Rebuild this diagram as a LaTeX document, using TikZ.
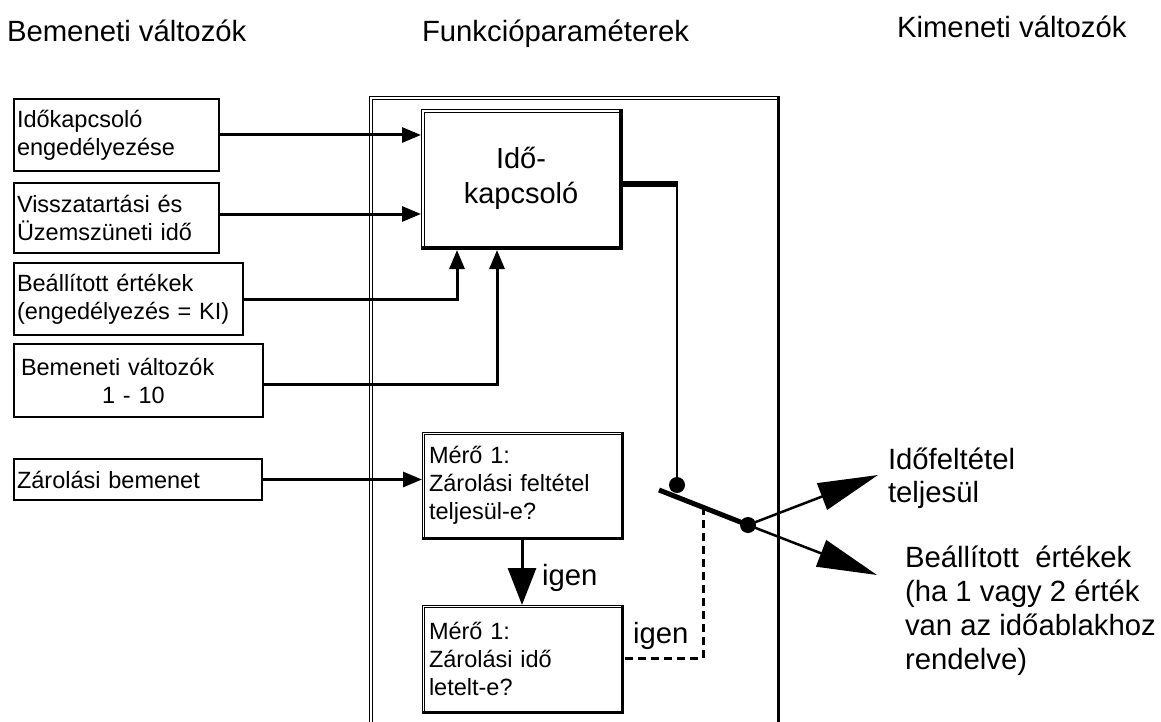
\documentclass[tikz,border=0pt]{standalone}
\usepackage{fontspec}
\setmainfont{Liberation Sans}
\usetikzlibrary{arrows.meta,calc}
\newcommand\dblframe[3]{%
  \draw[line width=0.9pt] ($(#1.south west)+(#2,0)$) |- ($(#1.north east)+(0,#2)$);
  \draw[line width=#3] (#1.north east) |- (#1.south west);
}
\begin{document}
\begin{tikzpicture}[x=1pt,y=-1pt,
  every node/.style={inner sep=0pt, outer sep=0pt},
  fsmall/.style={font=\fontsize{23.5pt}{28pt}\selectfont},
  fbig/.style={font=\fontsize{29.3pt}{34pt}\selectfont},
  inbox/.style={draw, line width=2.2pt, anchor=north west, align=left, fsmall, inner xsep=3pt},
  frame/.style={draw, line width=0.9pt, anchor=north west},
  arr/.style={line width=3pt, -{Triangle[length=19pt,width=15pt]}},
  bigarr/.style={line width=3pt, -{Triangle[length=37pt,width=28pt]}},
  outarr/.style={line width=2.5pt, -{Triangle[length=60pt,width=28pt]}},
  dsh/.style={line width=3pt, dash pattern=on 8pt off 5pt},
  blob/.style={circle, fill=black, minimum size=16pt}
]
\useasboundingbox (0,0) rectangle (1161,722);
\clip (0,0) rectangle (1161,722);

% titles
\node[fbig, anchor=base west] (h1) at (7,42) {Bemeneti változók};
\node[fbig, anchor=base west] (h2) at (422,42) {Funkcióparaméterek};
\node[fbig, anchor=base west] (h3) at (897,38) {Kimeneti változók};

% function parameter frame
\node[frame, minimum width=409pt, minimum height=660pt] (fp) at (369,96) {};
\dblframe{fp}{3.5}{3pt}

% input boxes
\node[inbox, minimum width=205pt, minimum height=72pt, text width=199pt] (b1) at (14,99) {Időkapcsoló\\engedélyezése};
\node[inbox, minimum width=205pt, minimum height=70pt, text width=199pt] (b2) at (14,183) {Visszatartási és\\Üzemszüneti idő};
\node[inbox, minimum width=229pt, minimum height=72pt, text width=223pt] (b3) at (14,263) {Beállított értékek\\(engedélyezés = KI)};
\node[inbox, minimum width=249pt, minimum height=73pt, text width=243pt] (b4) at (14,344) {\hspace*{4pt}Bemeneti változók\\\hspace*{85pt}1 - 10};
\node[inbox, minimum width=248pt, minimum height=41pt, text width=242pt] (b5) at (14,459) {Zárolási bemenet};

% time switch
\node[frame, minimum width=200pt, minimum height=139pt, align=center, font=\fontsize{29pt}{35pt}\selectfont] (k) at (421,109) {Idő-\\kapcsoló};
\dblframe{k}{3}{4pt}

% counter boxes
\node[frame, minimum width=200pt, minimum height=106pt, align=left, fsmall, text width=186pt, inner xsep=7pt] (m1) at (422,432) {Mérő 1:\\Zárolási feltétel\\teljesül-e?};
\dblframe{m1}{2.5}{3pt}
\node[frame, minimum width=200pt, minimum height=107pt, align=left, fsmall, text width=186pt, inner xsep=7pt] (m2) at (422,605) {Mérő 1:\\Zárolási idő\\letelt-e?};
\dblframe{m2}{2.5}{3pt}

% input connectors
\draw[arr] (b1.east) -- (b1.east -| k.west);
\draw[arr] ($(b2.east)+(0,-4)$) -- ($(b2.east -| k.west)+(0,-4)$);
\draw[arr] (b3.east) -| ($(k.south west)+(36,2)$);
\draw[arr] ($(b4.east)+(0,4)$) -| ($(k.south west)+(76,2)$);
\draw[arr] (b5.east) -- (b5.east -| m1.west);
\draw[bigarr] (m1.south) -- (m2.north);

% switch
\coordinate (ko) at ($(k.east)+(0,5.5)$);
\coordinate (p1) at (677,485);
\coordinate (lv) at (659,490);
\coordinate (p2) at (748,525);
\coordinate (o1) at (878,475);
\coordinate (o2) at (877,575);
\draw[line width=5.5pt] (ko) -- ($(ko -| p1)+(1.25,0)$);
\draw[line width=2.5pt] (ko -| p1) -- (p1);
\draw[line width=5pt] (lv) -- (p2);
\draw[outarr] (p2) -- (o1);
\draw[outarr] (p2) -- (o2);
\coordinate (lx) at ($(lv)!0.4944!(p2)$);
\draw[dsh] (lx) |- (m2.east);
\node[blob] (d1) at (p1) {};
\node[blob] (d2) at (p2) {};

% labels
\node[fbig, anchor=base west] (ig1) at (542,585) {igen};
\node[fbig, anchor=base west] (ig2) at (633,643) {igen};
\node[fbig, anchor=north west, align=left, font=\fontsize{29.3pt}{33pt}\selectfont] (t1) at (888,448) {Időfeltétel\\teljesül};
\node[fbig, anchor=north west, align=left] (t2) at (905,546) {Beállított\ \ értékek\\(ha 1 vagy 2 érték\\van az időablakhoz\\rendelve)};
\end{tikzpicture}
\end{document}
